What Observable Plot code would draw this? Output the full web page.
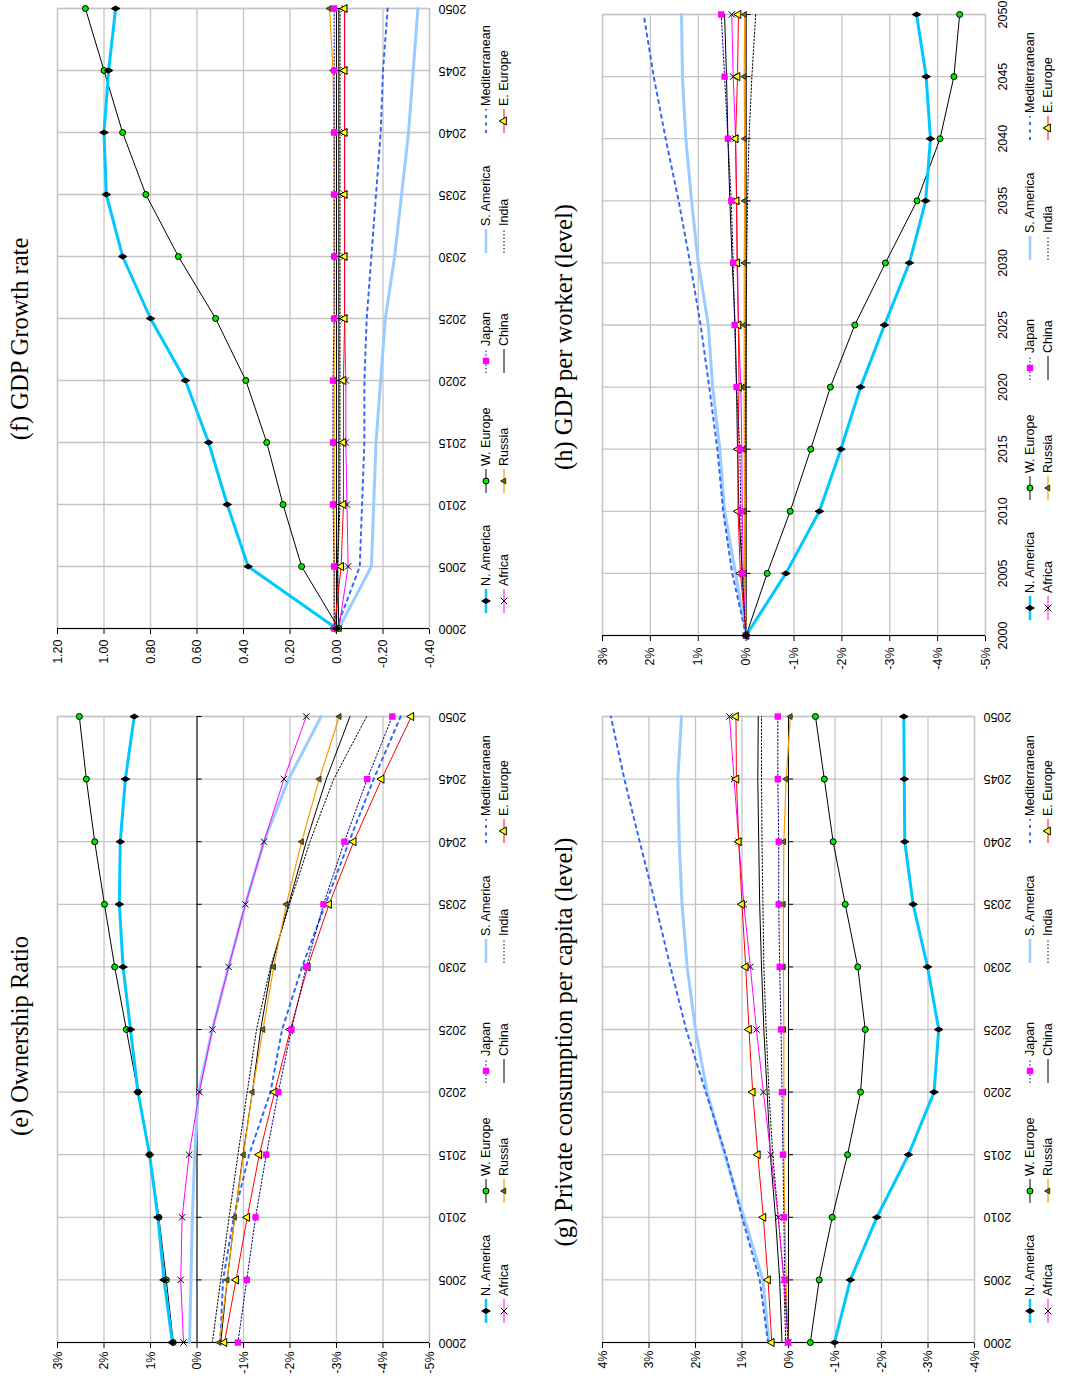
<!DOCTYPE html>
<html>
<head>
<meta charset="utf-8">
<script src="https://cdn.jsdelivr.net/npm/d3@7"></script>
<script src="https://cdn.jsdelivr.net/npm/@observablehq/plot@0.6"></script>
<style>
html, body { margin: 0; padding: 0; background: #fff; width: 1065px; height: 1382px; overflow: hidden; }
#page { position: absolute; left: 0; top: 1382px; width: 1382px; height: 1065px; transform-origin: 0 0; transform: rotate(-90deg); background: #fff; }
.panel { position: absolute; }
.panel svg.plot { position: absolute; left: 0; top: 0; overflow: visible; }
.title { position: absolute; width: 640px; text-align: center; font-family: "Liberation Serif", "Times New Roman", serif; font-size: 24.5px; line-height: 24px; white-space: nowrap; color: #000; }
.legitem { position: absolute; height: 14px; display: flex; align-items: center; font-family: "Liberation Sans", Arial, sans-serif; font-size: 12.5px; color: #000; white-space: nowrap; }
.legitem svg { margin-right: 3px; overflow: visible; }
</style>
</head>
<body>
<div id="page"></div>
<script>
// ---------- shared categories ----------
const years = [2000, 2005, 2010, 2015, 2020, 2025, 2030, 2035, 2040, 2045, 2050];
const regions = ["N. America", "W. Europe", "Japan", "S. America", "Mediterranean",
                 "Africa", "Russia", "China", "India", "E. Europe"];

// ---------- (e) Ownership Ratio (%) ----------
const ownNAmerica = [0.53, 0.71, 0.84, 1.02, 1.27, 1.43, 1.59, 1.67, 1.65, 1.54, 1.35];
const ownWEurope = [0.51, 0.66, 0.82, 1.02, 1.27, 1.52, 1.77, 1.99, 2.20, 2.38, 2.53];
const ownJapan = [-0.88, -1.07, -1.26, -1.49, -1.75, -2.03, -2.35, -2.72, -3.17, -3.66, -4.20];
const ownSAmerica = [0.16, 0.13, 0.10, 0.05, -0.03, -0.33, -0.68, -1.04, -1.44, -1.97, -2.67];
const ownMedit = [-0.50, -0.56, -0.79, -1.12, -1.58, -1.83, -2.26, -2.76, -3.27, -3.80, -4.38];
const ownAfrica = [0.29, 0.35, 0.32, 0.17, -0.05, -0.33, -0.68, -1.04, -1.44, -1.87, -2.35];
const ownRussia = [-0.48, -0.65, -0.81, -1.00, -1.19, -1.42, -1.65, -1.92, -2.25, -2.63, -3.06];
const ownChina = [-0.51, -0.65, -0.81, -0.99, -1.19, -1.37, -1.60, -1.97, -2.35, -2.78, -3.29];
const ownIndia = [-0.33, -0.51, -0.69, -0.88, -1.08, -1.28, -1.58, -1.99, -2.43, -2.94, -3.65];
const ownEEurope = [-0.59, -0.84, -1.08, -1.34, -1.67, -2.01, -2.38, -2.84, -3.37, -3.97, -4.61];
const ownTicks = [-5, -4, -3, -2, -1, 0, 1, 2, 3];

// ---------- (f) GDP Growth rate ----------
const gdpNAmerica = [0.00, 0.38, 0.47, 0.55, 0.65, 0.80, 0.92, 0.99, 1.00, 0.98, 0.95];
const gdpWEurope = [-0.01, 0.15, 0.23, 0.30, 0.39, 0.52, 0.68, 0.82, 0.92, 1.00, 1.08];
const gdpJapan = [0.01, 0.01, 0.015, 0.015, 0.015, 0.01, 0.01, 0.01, 0.01, 0.01, 0.01];
const gdpSAmerica = [-0.01, -0.15, -0.16, -0.17, -0.19, -0.21, -0.25, -0.28, -0.31, -0.33, -0.35];
const gdpMedit = [0.00, -0.10, -0.11, -0.12, -0.12, -0.13, -0.15, -0.17, -0.19, -0.20, -0.22];
const gdpAfrica = [-0.01, -0.05, -0.045, -0.04, -0.04, -0.035, -0.035, -0.035, -0.035, -0.035, -0.035];
const gdpRussia = [0.01, 0.01, 0.01, 0.01, 0.01, 0.01, 0.01, 0.01, 0.01, 0.015, 0.03];
const gdpChina = [-0.01, -0.005, -0.01, -0.01, -0.01, -0.01, -0.01, -0.01, -0.01, -0.01, -0.01];
const gdpIndia = [0.00, -0.005, -0.015, -0.015, -0.015, -0.015, -0.015, -0.015, -0.015, -0.015, -0.015];
const gdpEEurope = [0.01, -0.02, -0.03, -0.03, -0.03, -0.035, -0.035, -0.035, -0.035, -0.035, -0.035];
const gdpTicks = [-0.4, -0.2, 0, 0.2, 0.4, 0.6, 0.8, 1.0, 1.2];

// ---------- (g) Private consumption per capita (level, %) ----------
const conNAmerica = [-0.99, -1.33, -1.90, -2.58, -3.13, -3.23, -2.99, -2.68, -2.50, -2.49, -2.48];
const conWEurope = [-0.47, -0.66, -0.94, -1.27, -1.55, -1.65, -1.49, -1.22, -0.96, -0.77, -0.58];
const conJapan = [0.01, 0.08, 0.10, 0.12, 0.14, 0.16, 0.19, 0.21, 0.21, 0.23, 0.23];
const conSAmerica = [0.42, 0.55, 0.96, 1.37, 1.75, 2.00, 2.18, 2.29, 2.35, 2.38, 2.30];
const conMedit = [0.44, 0.62, 1.00, 1.35, 1.78, 2.20, 2.54, 2.86, 3.20, 3.53, 3.82];
const conAfrica = [0.01, 0.10, 0.22, 0.38, 0.54, 0.69, 0.82, 0.96, 1.07, 1.17, 1.27];
const conRussia = [0.01, 0.05, 0.08, 0.10, 0.10, 0.10, 0.11, 0.11, 0.10, 0.05, -0.04];
const conChina = [0.14, 0.19, 0.28, 0.39, 0.46, 0.53, 0.58, 0.62, 0.64, 0.66, 0.65];
const conIndia = [0.06, 0.10, 0.22, 0.34, 0.42, 0.48, 0.53, 0.55, 0.57, 0.58, 0.58];
const conEEurope = [0.36, 0.44, 0.54, 0.66, 0.77, 0.85, 0.92, 1.00, 1.07, 1.12, 1.13];
const conTicks = [-4, -3, -2, -1, 0, 1, 2, 3, 4];

// ---------- (h) GDP per worker (level, %) ----------
const wrkNAmerica = [0, -0.83, -1.53, -1.98, -2.39, -2.89, -3.41, -3.75, -3.85, -3.76, -3.56];
const wrkWEurope = [0, -0.44, -0.92, -1.35, -1.76, -2.27, -2.91, -3.57, -4.05, -4.34, -4.46];
const wrkJapan = [0, 0.09, 0.11, 0.13, 0.20, 0.24, 0.27, 0.31, 0.38, 0.45, 0.52];
const wrkSAmerica = [0, 0.22, 0.45, 0.55, 0.70, 0.79, 1.00, 1.14, 1.26, 1.33, 1.35];
const wrkMedit = [0, 0.29, 0.48, 0.60, 0.77, 0.95, 1.17, 1.41, 1.68, 1.93, 2.14];
const wrkAfrica = [0, 0.06, 0.08, 0.09, 0.11, 0.16, 0.18, 0.20, 0.22, 0.27, 0.30];
const wrkRussia = [0, 0.03, 0.03, 0.04, 0.04, 0.04, 0.04, 0.03, 0.03, 0.04, 0.03];
const wrkChina = [0, 0.08, 0.15, 0.18, 0.20, 0.23, 0.29, 0.34, 0.38, 0.41, 0.45];
const wrkIndia = [0, 0.03, 0.03, 0.02, 0.01, 0.00, -0.01, -0.03, -0.06, -0.12, -0.20];
const wrkEEurope = [0, 0.12, 0.17, 0.17, 0.15, 0.16, 0.19, 0.20, 0.22, 0.18, 0.16];
const wrkTicks = [-5, -4, -3, -2, -1, 0, 1, 2, 3];

// ---------- series styling ----------
const seriesStyle = {
  "N. America":    {stroke: "#00c8ff", width: 3,   dash: null,    symbol: "diamond",  fill: "#000",    mstroke: "#000", r: 2.6},
  "W. Europe":     {stroke: "#000",    width: 1,   dash: null,    symbol: "circle",   fill: "#00e600", mstroke: "#000", r: 3},
  "Japan":         {stroke: "#000080", width: 1,   dash: "1.5,2", symbol: "square",   fill: "#ff00ff", mstroke: "none", r: 3.6},
  "S. America":    {stroke: "#99ccff", width: 3,   dash: null},
  "Mediterranean": {stroke: "#3366ff", width: 2,   dash: "3,4.5"},
  "Africa":        {stroke: "#ff00ff", width: 1,   dash: null,    symbol: "times",    fill: "none",    mstroke: "#000", r: 3},
  "Russia":        {stroke: "#ff9900", width: 1.2, dash: null,    symbol: "triangle", fill: "#6b6b00", mstroke: "#333", r: 2.2},
  "China":         {stroke: "#000",    width: 1,   dash: null},
  "India":         {stroke: "#000",    width: 1,   dash: "1.5,2"},
  "E. Europe":     {stroke: "#ff0000", width: 1,   dash: null,    symbol: "triangle", fill: "#ffff00", mstroke: "#000", r: 3}
};
const drawOrder = ["S. America", "Mediterranean", "India", "China", "Africa", "Russia", "E. Europe", "Japan", "W. Europe", "N. America"];

function table(seriesList) {
  return regions.flatMap((r, i) => years.map((yr, j) => ({region: r, year: yr, value: seriesList[i][j]})));
}

const pct = d => d + "%";
const fix2 = d => d.toFixed(2);

const panels = [
  {id: "e", title: "(e) Ownership Ratio", left: 0, top: 0, width: 692, height: 530,
   mL: 39, mR: 27, mT: 57, mB: 101, yPad: 4, xPad: 9, rotate: -90,
   ticks: ownTicks, fmt: pct, titleCx: 346, titleTop: 8, legX: 59, legY: [486, 504],
   series: [ownNAmerica, ownWEurope, ownJapan, ownSAmerica, ownMedit, ownAfrica, ownRussia, ownChina, ownIndia, ownEEurope]},
  {id: "f", title: "(f) GDP Growth rate", left: 692, top: 0, width: 690, height: 530,
   mL: 61, mR: 9, mT: 57, mB: 101, yPad: 6, xPad: 9, rotate: -90,
   ticks: gdpTicks, fmt: fix2, titleCx: 351, titleTop: 8, legX: 77, legY: [486, 504],
   series: [gdpNAmerica, gdpWEurope, gdpJapan, gdpSAmerica, gdpMedit, gdpAfrica, gdpRussia, gdpChina, gdpIndia, gdpEEurope]},
  {id: "g", title: "(g) Private consumption per capita (level)", left: 0, top: 530, width: 692, height: 535,
   mL: 39, mR: 27, mT: 72, mB: 91, yPad: 3, xPad: 9, rotate: -90,
   ticks: conTicks, fmt: pct, titleCx: 340, titleTop: 22, legX: 59, legY: [500, 518],
   series: [conNAmerica, conWEurope, conJapan, conSAmerica, conMedit, conAfrica, conRussia, conChina, conIndia, conEEurope]},
  {id: "h", title: "(h) GDP per worker (level)", left: 692, top: 530, width: 690, height: 535,
   mL: 54, mR: 15, mT: 72, mB: 80, yPad: 7, xPad: 13, rotate: 0,
   ticks: wrkTicks, fmt: pct, titleCx: 353, titleTop: 22, legX: 70, legY: [500, 518],
   series: [wrkNAmerica, wrkWEurope, wrkJapan, wrkSAmerica, wrkMedit, wrkAfrica, wrkRussia, wrkChina, wrkIndia, wrkEEurope]}
];

const page = document.getElementById("page");
const gridStyle = {stroke: "#c4c4c4", strokeOpacity: 1, strokeWidth: 1.3};

for (const p of panels) {
  const data = table(p.series);
  const lineMarks = drawOrder.map(r => {
    const s = seriesStyle[r];
    return Plot.line(data.filter(d => d.region === r), {
      x: "year", y: "value", stroke: s.stroke, strokeWidth: s.width,
      strokeDasharray: s.dash || undefined, strokeLinejoin: "round"
    });
  });
  const dotMarks = drawOrder.filter(r => seriesStyle[r].symbol).map(r => {
    const s = seriesStyle[r];
    return Plot.dot(data.filter(d => d.region === r), {
      x: "year", y: "value", symbol: s.symbol, r: s.r, fill: s.fill,
      stroke: s.mstroke, strokeWidth: 1
    });
  });

  const chart = Plot.plot({
    width: p.width, height: p.height,
    marginLeft: p.mL, marginRight: p.mR, marginTop: p.mT, marginBottom: p.mB,
    x: {type: "linear", domain: [2000, 2050], label: null},
    y: {type: "linear", domain: [p.ticks[0], p.ticks[p.ticks.length - 1]], label: null},
    style: {fontFamily: "'Liberation Sans', Arial, sans-serif", fontSize: "12.5px", color: "#000", background: "transparent", overflow: "visible"},
    marks: [
      Plot.gridY(p.ticks, gridStyle),
      Plot.gridX(years, gridStyle),
      Plot.frame({stroke: "#c4c4c4", strokeWidth: 1.3}),
      Plot.ruleY([0], {stroke: "#000", strokeWidth: 1}),
      Plot.ruleX(years, {x: d => d, y1: () => 0, y2: () => 0, insetBottom: -5, stroke: "#000"}),
      Plot.ruleX([2000], {stroke: "#000", strokeWidth: 1}),
      Plot.axisY(p.ticks, {tickSize: 5, tickPadding: p.yPad, tickFormat: p.fmt, stroke: "#000", fill: "#000", label: null}),
      Plot.axisX(years, {tickSize: 0, tickPadding: p.xPad, tickRotate: p.rotate, tickFormat: d => String(d), fill: "#000", label: null}),
      ...lineMarks,
      ...dotMarks
    ]
  });
  chart.classList.add("plot");

  const div = document.createElement("div");
  div.className = "panel";
  div.style.left = p.left + "px";
  div.style.top = p.top + "px";
  div.style.width = p.width + "px";
  div.style.height = p.height + "px";
  div.appendChild(chart);

  const t = document.createElement("div");
  t.className = "title";
  t.textContent = p.title;
  t.style.left = (p.titleCx - 320) + "px";
  t.style.top = p.titleTop + "px";
  div.appendChild(t);

  // legend: two rows of five
  regions.forEach((r, i) => {
    const s = seriesStyle[r];
    const row = Math.floor(i / 5), col = i % 5;
    const item = document.createElement("div");
    item.className = "legitem";
    item.style.left = (p.legX + col * 120) + "px";
    item.style.top = (p.legY[row] - 7) + "px";
    const sw = d3.create("svg").attr("width", 24).attr("height", 14);
    sw.append("line").attr("x1", 0).attr("x2", 24).attr("y1", 7).attr("y2", 7)
      .attr("stroke", s.stroke).attr("stroke-width", Math.min(s.width, 2.5))
      .attr("stroke-dasharray", s.dash || null);
    if (s.symbol) {
      const typeMap = {diamond: d3.symbolDiamond, circle: d3.symbolCircle, square: d3.symbolSquare,
                       times: d3.symbolTimes, triangle: d3.symbolTriangle};
      sw.append("path")
        .attr("transform", "translate(12,7)")
        .attr("d", d3.symbol(typeMap[s.symbol], Math.PI * s.r * s.r)())
        .attr("fill", s.fill).attr("stroke", s.mstroke).attr("stroke-width", 1);
    }
    item.appendChild(sw.node());
    const label = document.createElement("span");
    label.textContent = r;
    item.appendChild(label);
    div.appendChild(item);
  });

  page.appendChild(div);
}
</script>
</body>
</html>
